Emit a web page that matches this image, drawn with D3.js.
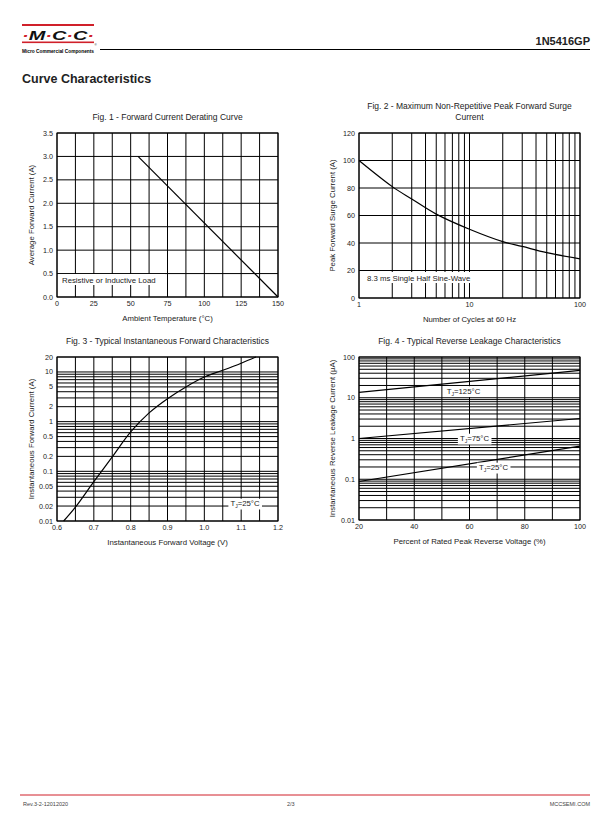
<!DOCTYPE html>
<html>
<head>
<meta charset="utf-8">
<script src="https://cdnjs.cloudflare.com/ajax/libs/d3/7.8.5/d3.min.js"></script>
<style>
  body { margin: 0; background: #fff; }
  svg { font-family: "Liberation Sans", Arial, sans-serif; }
</style>
</head>
<body>
<div id="page"></div>
<script>
// Fig. 1 - derating line
var fig1Temp = [55, 150];
var fig1Current = [3.0, 0];
var fig1XTicks = [0, 25, 50, 75, 100, 125, 150];
var fig1YTicks = [0, 0.5, 1, 1.5, 2, 2.5, 3, 3.5];

// Fig. 2 - surge current vs cycles
var fig2Cycles = [1, 2, 3, 5, 10, 20, 30, 50, 100];
var fig2Current = [100, 81, 72, 61, 50, 41, 37.5, 33, 28.5];
var fig2XTicks = [1, 10, 100];
var fig2YTicks = [0, 20, 40, 60, 80, 100, 120];

// Fig. 3 - forward characteristics
var fig3Voltage = [0.618, 0.65, 0.7, 0.75, 0.8, 0.85, 0.9, 0.95, 1.0, 1.05, 1.1, 1.14];
var fig3Current = [0.01, 0.019, 0.062, 0.195, 0.62, 1.5, 2.9, 5.0, 7.9, 10.8, 15, 20];
var fig3XTicks = [0.6, 0.7, 0.8, 0.9, 1.0, 1.1, 1.2];
var fig3YTicks = [0.01, 0.02, 0.05, 0.1, 0.2, 0.5, 1, 2, 5, 10, 20];
var fig3YLabels = ["0.01", "0.02", "0.05", "0.1", "0.2", "0.5", "1", "2", "5", "10", "20"];

// Fig. 4 - reverse leakage
var fig4Percent = [20, 100];
var fig4Leak125 = [13.5, 47];
var fig4Leak75 = [1.0, 3.1];
var fig4Leak25 = [0.088, 0.65];
var fig4XTicks = [20, 40, 60, 80, 100];
var fig4YTicks = [0.01, 0.1, 1, 10, 100];
var fig4YLabels = ["0.01", "0.1", "1", "10", "100"];

var svg = d3.select("#page").append("svg")
  .attr("width", 612)
  .attr("height", 825);

// ---------- header ----------
svg.append("rect").attr("x", 22).attr("y", 24).attr("width", 72).attr("height", 2).attr("fill", "#d0202a");
svg.append("rect").attr("x", 22).attr("y", 41.5).attr("width", 72).attr("height", 1.6).attr("fill", "#d0202a");
var logo = svg.append("text")
  .attr("x", 22).attr("y", 39.8)
  .attr("font-size", 13).attr("font-weight", "bold").attr("font-style", "italic")
  .attr("textLength", 72).attr("lengthAdjust", "spacingAndGlyphs");
["·", "M", "·", "C", "·", "C", "·"].forEach(function (c) {
  logo.append("tspan").attr("fill", c == "·" ? "#d0202a" : "#111").text(c);
});
svg.append("text").attr("x", 22).attr("y", 52.5)
  .attr("font-size", 4.6).attr("font-weight", "bold")
  .attr("textLength", 72).attr("lengthAdjust", "spacingAndGlyphs")
  .text("Micro Commercial Components");
svg.append("text").attr("x", 94.5).attr("y", 46).attr("font-size", 3).text("®");
svg.append("line").attr("x1", 100).attr("x2", 590).attr("y1", 49.5).attr("y2", 49.5)
  .attr("stroke", "#000").attr("stroke-width", 1);
svg.append("text").attr("x", 590).attr("y", 45).attr("text-anchor", "end")
  .attr("font-size", 11).attr("font-weight", "bold").attr("fill", "#222").text("1N5416GP");
svg.append("text").attr("x", 22).attr("y", 83)
  .attr("font-size", 12.5).attr("font-weight", "bold").attr("fill", "#222").text("Curve Characteristics");

// ---------- footer ----------
svg.append("line").attr("x1", 20).attr("x2", 590).attr("y1", 795).attr("y2", 795)
  .attr("stroke", "#d0202a").attr("stroke-width", 1);
svg.append("text").attr("x", 23).attr("y", 806).attr("font-size", 5.5).attr("fill", "#444").text("Rev.3-2-12012020");
svg.append("text").attr("x", 287).attr("y", 806).attr("font-size", 5.5).attr("fill", "#444").text("2/3");
svg.append("text").attr("x", 590).attr("y", 806).attr("text-anchor", "end").attr("font-size", 5.5).attr("fill", "#444").text("MCCSEMI.COM");

// ---------- panel helper ----------
function panel(o) {
  var g = svg.append("g");
  var x = o.x, y = o.y;
  var x0 = x.range()[0], x1 = x.range()[1];
  var y0 = y.range()[0], y1 = y.range()[1];

  // grid
  g.selectAll(".vg").data(o.xGrid).enter().append("line")
    .attr("x1", function (d) { return x(d); }).attr("x2", function (d) { return x(d); })
    .attr("y1", y0).attr("y2", y1)
    .attr("stroke", "#000").attr("stroke-width", 1);
  g.selectAll(".hg").data(o.yGrid).enter().append("line")
    .attr("x1", x0).attr("x2", x1)
    .attr("y1", function (d) { return y(d); }).attr("y2", function (d) { return y(d); })
    .attr("stroke", "#000").attr("stroke-width", 1);
  g.append("rect").attr("x", x0).attr("y", y1).attr("width", x1 - x0).attr("height", y0 - y1)
    .attr("fill", "none").attr("stroke", "#000").attr("stroke-width", 1);

  // tick labels
  g.selectAll(".xt").data(o.xTicks).enter().append("text")
    .attr("x", function (d) { return x(d); }).attr("y", y0 + 9)
    .attr("text-anchor", "middle").attr("font-size", 7.2).attr("fill", "#222")
    .text(o.xFormat);
  g.selectAll(".yt").data(o.yTicks).enter().append("text")
    .attr("x", x0 - 4).attr("y", function (d) { return y(d) + 2.5; })
    .attr("text-anchor", "end").attr("font-size", 7.2).attr("fill", "#222")
    .text(o.yFormat);

  // titles
  var cx = (x0 + x1) / 2;
  o.title.forEach(function (t, i) {
    g.append("text").attr("x", cx).attr("y", y1 - 13 + i * 11 - (o.title.length - 1) * 11)
      .attr("text-anchor", "middle").attr("font-size", 8.5).attr("fill", "#222").text(t);
  });
  g.append("text").attr("x", cx).attr("y", y0 + 23.5)
    .attr("text-anchor", "middle").attr("font-size", 7.8).attr("fill", "#222").text(o.xTitle);
  g.append("text")
    .attr("transform", "translate(" + o.yTitleX + "," + ((y0 + y1) / 2) + ") rotate(-90)")
    .attr("text-anchor", "middle").attr("font-size", 7.8).attr("fill", "#222").text(o.yTitle);

  // curves
  var line = d3.line()
    .x(function (d) { return x(d[0]); })
    .y(function (d) { return y(d[1]); })
    .curve(o.curve || d3.curveLinear);
  o.series.forEach(function (s) {
    g.append("path").datum(d3.zip(s[0], s[1]))
      .attr("d", line).attr("fill", "none")
      .attr("stroke", "#000").attr("stroke-width", 1.2);
  });
  return g;
}

function label(g, cx, cy, parts, anchor) {
  var t = g.append("text").attr("x", cx).attr("y", cy + 2.7)
    .attr("text-anchor", anchor || "middle").attr("font-size", 7.8).attr("fill", "#222");
  parts.forEach(function (p) {
    var sp = t.append("tspan").text(p.text);
    if (p.sub) sp.attr("font-size", 5).attr("dy", 1.8);
    if (p.back) sp.attr("dy", -1.8);
  });
  var b = t.node().getBBox();
  g.insert("rect", function () { return t.node(); })
    .attr("x", b.x - 2).attr("y", b.y - 0.5).attr("width", b.width + 4).attr("height", b.height + 1)
    .attr("fill", "#fff");
}

function tj(temp) {
  return [{ text: "T" }, { text: "J", sub: true }, { text: "=" + temp + "°C", back: true }];
}

// Fig. 1
var x1s = d3.scaleLinear().domain([0, 150]).range([57, 278]);
var y1s = d3.scaleLinear().domain([0, 3.5]).range([297, 133]);
var g1 = panel({
  x: x1s, y: y1s,
  xGrid: d3.range(0, 150.1, 12.5), yGrid: fig1YTicks,
  xTicks: fig1XTicks, yTicks: fig1YTicks,
  xFormat: d3.format("d"), yFormat: d3.format(".1f"),
  title: ["Fig. 1 - Forward Current Derating Curve"],
  xTitle: "Ambient Temperature (°C)", yTitle: "Average Forward Current (A)", yTitleX: 34,
  series: [[fig1Temp, fig1Current]]
});
g1.append("rect").attr("x", 58).attr("y", 274).attr("width", 107).attr("height", 11).attr("fill", "#fff");
g1.append("text").attr("x", 62).attr("y", 282.5).attr("font-size", 7.8).attr("fill", "#222").text("Resistive or Inductive Load");

// Fig. 2
var x2s = d3.scaleLog().domain([1, 100]).range([359, 580]);
var y2s = d3.scaleLinear().domain([0, 120]).range([298, 133]);
var g2 = panel({
  x: x2s, y: y2s,
  xGrid: x2s.ticks(), yGrid: fig2YTicks,
  xTicks: fig2XTicks, yTicks: fig2YTicks,
  xFormat: d3.format("d"), yFormat: d3.format("d"),
  title: ["Fig. 2 - Maximum Non-Repetitive Peak Forward Surge", "Current"],
  xTitle: "Number of Cycles at 60 Hz", yTitle: "Peak Forward Surge Current (A)", yTitleX: 335,
  series: [[fig2Cycles, fig2Current]], curve: d3.curveCatmullRom.alpha(0.5)
});
g2.append("rect").attr("x", 362).attr("y", 272).attr("width", 111).attr("height", 11).attr("fill", "#fff");
g2.append("text").attr("x", 367).attr("y", 281).attr("font-size", 7.8).attr("fill", "#222").text("8.3 ms Single Half Sine-Wave");

// Fig. 3
var x3s = d3.scaleLinear().domain([0.6, 1.2]).range([57, 278]);
var y3s = d3.scaleLog().domain([0.01, 20]).range([521, 357]);
var g3 = panel({
  x: x3s, y: y3s,
  xGrid: d3.range(0.6, 1.201, 0.05), yGrid: y3s.ticks(),
  xTicks: fig3XTicks, yTicks: fig3YTicks,
  xFormat: d3.format(".1f"), yFormat: function (d, i) { return fig3YLabels[i]; },
  title: ["Fig. 3 - Typical Instantaneous Forward Characteristics"],
  xTitle: "Instantaneous Forward Voltage (V)", yTitle: "Instantaneous Forward Current (A)", yTitleX: 34,
  series: [[fig3Voltage, fig3Current]], curve: d3.curveCatmullRom.alpha(0.5)
});
label(g3, 245, 503.5, tj(25));

// Fig. 4
var x4s = d3.scaleLinear().domain([20, 100]).range([359, 580]);
var y4s = d3.scaleLog().domain([0.01, 100]).range([520, 357]);
var g4 = panel({
  x: x4s, y: y4s,
  xGrid: d3.range(20, 100.1, 10), yGrid: y4s.ticks(),
  xTicks: fig4XTicks, yTicks: fig4YTicks,
  xFormat: d3.format("d"), yFormat: function (d, i) { return fig4YLabels[i]; },
  title: ["Fig. 4 - Typical Reverse Leakage Characteristics"],
  xTitle: "Percent of Rated Peak Reverse Voltage (%)", yTitle: "Instantaneous Reverse Leakage Current (µA)", yTitleX: 335,
  series: [[fig4Percent, fig4Leak125], [fig4Percent, fig4Leak75], [fig4Percent, fig4Leak25]]
});
label(g4, 463.5, 391, tj(125));
label(g4, 474.5, 438.5, tj(75));
label(g4, 493.5, 467.5, tj(25));
</script>
</body>
</html>
